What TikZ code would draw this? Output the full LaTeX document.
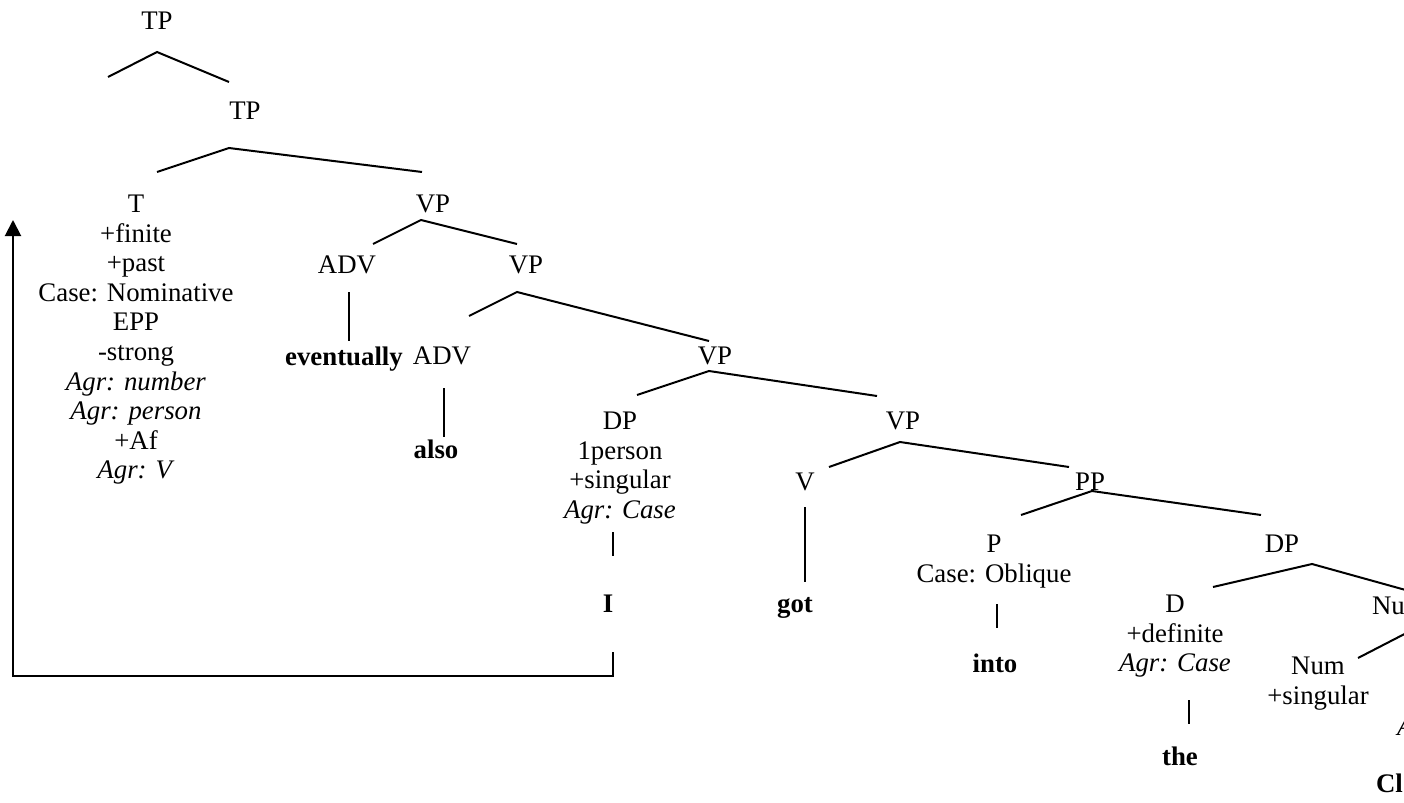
\documentclass[tikz,border=0pt]{standalone}
\usepackage{fontspec}
\setmainfont{Liberation Serif}
\usetikzlibrary{arrows.meta}
\begin{document}
\begin{tikzpicture}[x=0.5pt,y=-0.5pt,
  cat/.style={inner sep=0pt, outer sep=0pt, anchor=north, align=center, font=\fontsize{13.4}{14.8}\selectfont},
  word/.style={inner sep=0pt, outer sep=0pt, anchor=base, font=\fontsize{13.4}{14.8}\selectfont\bfseries},
  edge/.style={line width=1pt},
  move/.style={line width=1pt, -{Triangle[width=8pt,length=8pt]}}]
\useasboundingbox (0,0) rectangle (1404,803);
\clip (0,0) rectangle (1404,803);
% labels
\node[cat] (tp1) at (157,12) {TP};
\node[cat] (tp2) at (245,102) {TP};
\node[cat] (t) at (136,195) {T\\+finite\\+past\\Case: Nominative\\EPP\\-strong\\\textit{Agr: number}\\\textit{Agr: person}\\+Af\\\textit{Agr: V}};
\node[cat] (vp1) at (433,195) {VP};
\node[cat] (adv1) at (347,256) {ADV};
\node[cat] (vp2) at (526,256) {VP};
\node[word] (eventually) at (344,365) {eventually};
\node[cat] (adv2) at (442,347) {ADV};
\node[word] (also) at (436,458) {also};
\node[cat] (vp3) at (715,347) {VP};
\node[cat] (dp1) at (620,412) {DP\\1person\\+singular\\\textit{Agr: Case}};
\node[word] (iw) at (608,612) {I};
\node[cat] (vp4) at (903,412) {VP};
\node[cat] (v) at (805,473) {V};
\node[word] (got) at (795,612) {got};
\node[cat] (pp) at (1090,473) {PP};
\node[cat] (p) at (994,535) {P\\Case: Oblique};
\node[word] (into) at (995,672) {into};
\node[cat] (dp2) at (1282,535) {DP};
\node[cat] (d) at (1175,595) {D\\+definite\\\textit{Agr: Case}};
\node[word] (the) at (1180,765) {the};
\node[cat, anchor=north west] (nump) at (1372,597) {NumP};
\node[cat] (num) at (1318,657) {Num\\+singular};
\node[word, anchor=base west, font=\fontsize{13.4}{14.8}\selectfont\itshape] (agr) at (1397,735) {Agr};
\node[word, anchor=base west] (cl) at (1376,792) {Cl};
% branch points
\coordinate (a1) at (108,77);  \coordinate (v1) at (157,52);  \coordinate (b1) at (229,82);
\coordinate (a2) at (157,172); \coordinate (v2) at (229,148); \coordinate (b2) at (422,172);
\coordinate (a3) at (373,244); \coordinate (v3) at (421,220); \coordinate (b3) at (517,244);
\coordinate (a4) at (469,316); \coordinate (v4) at (517,292); \coordinate (b4) at (709,341);
\coordinate (a5) at (637,395); \coordinate (v5) at (709,371); \coordinate (b5) at (877,396);
\coordinate (a6) at (829,467); \coordinate (v6) at (900,442); \coordinate (b6) at (1069,467);
\coordinate (a7) at (1021,515); \coordinate (v7) at (1092,491); \coordinate (b7) at (1261,515);
\coordinate (a8) at (1213,587); \coordinate (v8) at (1312,564); \coordinate (b8) at (1420,594);
\coordinate (a9) at (1358,658); \coordinate (b9) at (1420,626);
\draw[edge] (a1) -- (v1) -- (b1);
\draw[edge] (a2) -- (v2) -- (b2);
\draw[edge] (a3) -- (v3) -- (b3);
\draw[edge] (a4) -- (v4) -- (b4);
\draw[edge] (a5) -- (v5) -- (b5);
\draw[edge] (a6) -- (v6) -- (b6);
\draw[edge] (a7) -- (v7) -- (b7);
\draw[edge] (a8) -- (v8) -- (b8);
\draw[edge] (a9) -- (b9);
% unary lines
\coordinate (e1) at (349,292); \coordinate (f1) at (349,341);
\coordinate (e2) at (444,388); \coordinate (f2) at (444,437);
\coordinate (e3) at (613,532); \coordinate (f3) at (613,556);
\coordinate (e4) at (805,507); \coordinate (f4) at (805,582);
\coordinate (e5) at (997,604); \coordinate (f5) at (997,628);
\coordinate (e6) at (1189,700); \coordinate (f6) at (1189,724);
\draw[edge] (e1) -- (f1);
\draw[edge] (e2) -- (f2);
\draw[edge] (e3) -- (f3);
\draw[edge] (e4) -- (f4);
\draw[edge] (e5) -- (f5);
\draw[edge] (e6) -- (f6);
% movement arrow
\coordinate (m0) at (613,652); \coordinate (m1) at (613,676);
\coordinate (m2) at (13,676);  \coordinate (m3) at (13,220);
\draw[move] (m0) -- (m1) -- (m2) -- (m3);
\end{tikzpicture}
\end{document}
